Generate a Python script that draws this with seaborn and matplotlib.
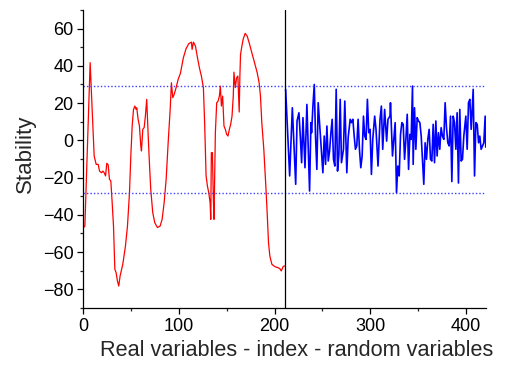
import matplotlib
matplotlib.use("Agg")
import matplotlib.pyplot as plt
from matplotlib.ticker import MultipleLocator
import seaborn as sns
import pandas as pd

# real variables (red)
red_x = [0, 1.8, 7.3, 11.5, 13.6, 15.7, 17.1, 19.2, 20.6, 22.0, 23.4, 24.7, 26.1, 27.5, 28.9,
         30.3, 31.7, 33.1, 34.4, 35.8, 37.2, 38.6, 41.4, 44.2, 46.3, 48.4, 49.8, 51.2, 52.6,
         54.0, 55.3, 56.0, 57.4, 58.8, 60.2, 60.9, 62.3, 63.7, 65.0, 66.4, 67.8, 69.2, 70.6,
         72.7, 74.8, 77.6, 80.4, 82.5, 84.6, 86.7, 88.8, 90.9, 92.2, 93.6, 95.0, 97.1, 99.2,
         101.6, 104.7, 107.5, 110.3, 113.1, 113.8, 115.2, 117.3, 119.4, 121.4, 123.5, 125.6,
         127.0, 128.4, 129.8, 131.2, 132.6, 133.3, 133.9, 135.0, 136.0, 136.7, 138.1, 139.5,
         140.9, 142.3, 143.3, 144.4, 145.7, 147.1, 148.5, 149.9, 151.3, 152.7, 154.1, 155.5,
         156.8, 157.5, 158.9, 160.3, 161.6, 163.0, 163.7, 164.4, 165.8, 167.1, 169.2, 171.3,
         173.4, 176.2, 179.0, 181.8, 183.8, 185.2, 186.6, 188.7, 190.8, 192.2, 193.6, 195.0,
         197.1, 199.2, 201.3, 203.4, 205.5, 206.9, 209.0, 210.4]
red_y = [-47, -46, 41.7, -8.4, -12.9, -12.9, -16.5, -17.4, -16.5, -17.4, -19.1, -12.3, -13.1,
         -20.9, -21.8, -33.4, -46, -69.2, -71, -75.5, -78.2, -72.8, -66.5, -56.7, -46, -28.1,
         -8.4, 7.7, 16.6, 18.4, 16.6, 17.5, 11.3, 7.7, -3.0, -5.7, 5.9, 6.8, 13.0, 22.0, 4.1,
         -12.0, -26.3, -38.8, -44.2, -46.8, -46, -42.4, -33.4, -20.9, -1.2, 16.6, 30.9, 22.9,
         24.6, 28.3, 32.7, 36.0, 44.4, 49.2, 51.9, 52.7, 48.8, 52.7, 50.6, 44.4, 39.0, 34.5,
         28.3, 7.7, -19.1, -24.5, -28.1, -33.4, -42.4, -6.6, -6.6, -31.7, -42.4, 4.1, 20.2,
         21.0, 23.8, 29.1, 18.4, 23.8, 7.7, 5.9, 3.2, 2.3, 5.9, 8.6, 13.0, 23.8, 36.6, 28.3,
         33.6, 34.5, 15.2, 34.5, 46.1, 50.6, 54.2, 57.4, 56.0, 52.4, 47.0, 41.7, 36.3, 30.9,
         23.8, 9.5, -4.8, -24.5, -38.8, -54.9, -62.1, -66.5, -67.4, -68.0, -68.3, -68.9,
         -70.1, -67.7, -67.4]

# random variables (blue)
blue_x = [211.5, 215.7, 218.5, 219.9, 222.0, 223.4, 225.4, 226.8, 228.2, 229.6, 231.7, 233.7,
          235.1, 236.5, 237.9, 238.6, 240.0, 241.4, 242.7, 244.1, 245.5, 246.9, 248.3, 250.4,
          251.8, 253.2, 254.6, 256.0, 257.4, 258.8, 260.1, 261.5, 262.9, 264.3, 265.7, 267.1,
          268.5, 269.8, 271.9, 273.3, 275.4, 276.8, 278.9, 280.3, 281.7, 283.1, 284.4, 285.8,
          287.2, 288.6, 290.0, 291.4, 292.8, 294.1, 295.5, 296.9, 298.3, 299.7, 301.1, 302.5,
          304.5, 305.9, 308.0, 310.1, 311.5, 312.9, 314.9, 317.0, 318.4, 320.5, 321.0, 323.1,
          324.5, 325.9, 327.3, 328.7, 330.1, 331.5, 332.9, 334.3, 335.7, 337.1, 338.5, 339.9,
          341.3, 342.6, 344.0, 344.7, 346.1, 347.5, 348.9, 350.3, 351.7, 353.1, 354.4, 355.8,
          357.2, 358.6, 360.0, 361.4, 362.8, 364.2, 365.6, 367.0, 368.4, 369.7, 371.1, 372.5,
          373.9, 375.3, 376.7, 378.1, 379.5, 380.9, 382.3, 383.7, 385.1, 386.5, 387.9, 389.3,
          390.6, 392.0, 393.4, 394.8, 396.2, 397.6, 399.7, 401.1, 402.5, 403.9, 405.3, 407.4,
          408.8, 410.2, 411.6, 413.0, 414.3, 415.7, 417.1, 418.5, 419.9, 420.5]
blue_y = [27.4, -19.1, 17.5, 0.5, -23.6, 10.4, 14.8, 2.3, -12.0, 12.2, -14.7, 19.3, -4.8,
          -27.2, 9.5, 4.1, 18.4, 30.0, 2.3, -15.6, 20.2, 9.5, -1.3, -17.4, 2.3, -12.9, 7.7,
          -11.1, -5.7, 4.1, 11.3, -10.2, -13.8, 27.4, -16.5, -7.5, 22.0, -12.0, -4.8, 21.1,
          -17.4, 1.4, 11.3, 9.5, 11.3, 2.3, -4.8, -3.0, 11.3, -4.8, -14.7, -8.4, 13.0, 2.3,
          0.5, 22.0, 4.1, 5.9, -18.3, 0.5, 13.0, 5.9, -13.8, 11.3, 18.4, -4.8, 16.6, -0.4,
          11.3, 13.0, 20.2, -8.4, 0.5, 9.5, -28.1, -13.8, -19.1, 3.2, 9.5, 8.6, -10.2, 0.5,
          14.0, -15.6, 3.2, 0.5, 29.1, -12.9, 17.5, -4.8, 12.2, 10.4, 9.5, 2.3, -10.2, -23.6,
          -1.3, -10.2, 0.5, 5.9, -10.2, -11.1, 8.6, -12.0, 10.4, -8.4, 4.1, -4.8, 6.8, 2.3,
          0.5, 20.2, 6.8, -1.3, -3.0, 13.0, -22.1, 13.0, 9.5, -4.8, 14.8, -22.9, 16.6, -11.1,
          -10.2, 2.3, 13.0, -4.8, 20.2, 22.0, 5.9, 27.4, -19.1, 9.5, 8.6, -1.3, 2.3, -4.8,
          -3.0, -1.3, 13.0, -3.6]

limit_hi = 29.0
limit_lo = -28.0
split_at = 211

red = pd.DataFrame({"x": red_x, "y": red_y})
blue = pd.DataFrame({"x": blue_x, "y": blue_y})

sns.set_style("ticks")
plt.rcParams['font.family'] = ['Liberation Sans', 'DejaVu Sans']

fig = plt.figure(figsize=(5.07, 3.68), dpi=100)
ax = fig.add_axes([0.164, 0.163, 0.795, 0.81])

sns.lineplot(data=red, x="x", y="y", color="#ff0000", lw=0.9, sort=False, ax=ax)
sns.lineplot(data=blue, x="x", y="y", color="#0000ff", lw=1.2, sort=False, ax=ax)
ax.axhline(limit_hi, color="#4040ff", lw=1.0, ls=(0, (1, 1.5)))
ax.axhline(limit_lo, color="#4040ff", lw=1.0, ls=(0, (1, 1.5)))
ax.axvline(split_at, color="black", lw=0.9)

ax.set_xlim(0, 421)
ax.set_ylim(-90, 70)
ax.xaxis.set_major_locator(MultipleLocator(100))
ax.xaxis.set_minor_locator(MultipleLocator(50))
ax.yaxis.set_major_locator(MultipleLocator(20))
ax.yaxis.set_minor_locator(MultipleLocator(10))
ax.tick_params(which="major", length=4, width=0.9, labelsize=13, colors="black", pad=3)
ax.tick_params(which="minor", length=2.5, width=0.9)
sns.despine(ax=ax)
for s in ["left", "bottom"]:
    ax.spines[s].set_linewidth(0.9)
    ax.spines[s].set_color("black")

ax.set_xlabel("Real variables - index - random variables", fontsize=15.6)
ax.set_ylabel("Stability", fontsize=16)
ax.xaxis.set_label_coords(0.529, -0.108)
ax.yaxis.set_label_coords(-0.118, 0.517)

fig.savefig("out.png", dpi=100)
